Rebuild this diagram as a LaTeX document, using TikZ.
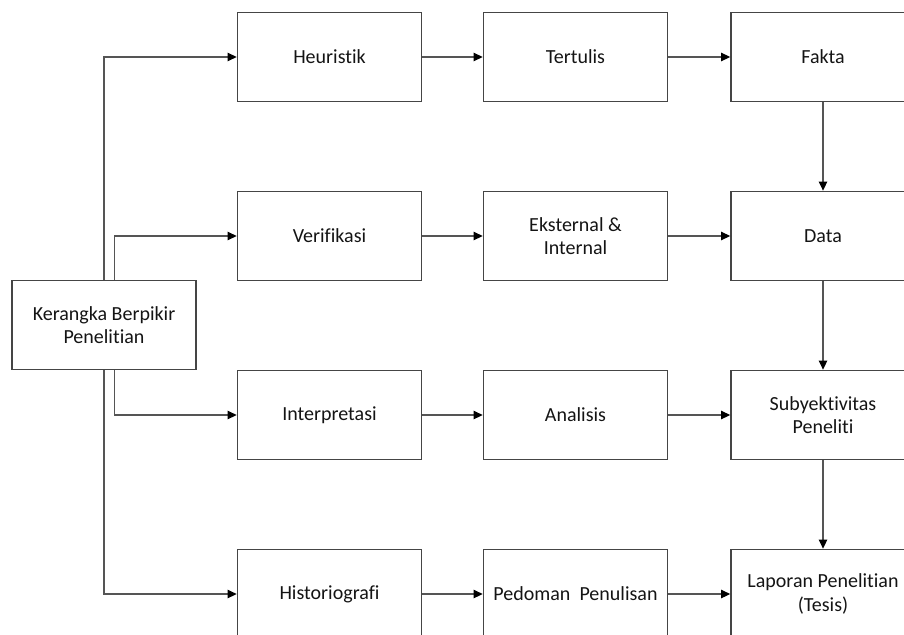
\documentclass[tikz,border=0pt]{standalone}
\usepackage{fontspec}
\setmainfont{Carlito}[RawFeature={-liga;-clig;-dlig}]
\usetikzlibrary{arrows.meta}
\definecolor{boxline}{HTML}{454545}
\definecolor{conline}{HTML}{555555}
\definecolor{txt}{HTML}{141414}
\tikzset{
  stepbox/.style={draw=boxline, line width=1.8pt, minimum width=184pt, minimum height=89pt,
    inner sep=0pt, align=center, text=txt, font=\fontsize{20}{23.5}\selectfont},
  conn/.style={draw=conline, line width=1.2pt, -{Triangle[length=9pt,width=8.5pt,fill=black,color=black]}},
}
\begin{document}
\begin{tikzpicture}[x=1pt,y=-1pt]
\useasboundingbox (0,0) rectangle (904,634);
\clip (0,0) rectangle (904,634);
% row centres: 57, 236, 415, 594 ; kerangka 325
\node[stepbox] (ker) at (104,325) {Kerangka Berpikir\\Penelitian};
\node[stepbox] (heu) at (329.5,57) {Heuristik};
\node[stepbox] (ter) at (575.5,57) {Tertulis};
\node[stepbox] (fak) at (823,57) {Fakta};
\node[stepbox] (ver) at (329.5,236) {Verifikasi};
\node[stepbox] (eks) at (575.5,236) {Eksternal \&\\Internal};
\node[stepbox] (dat) at (823,236) {Data};
\node[stepbox] (int) at (329.5,415) {Interpretasi};
\node[stepbox] (ana) at (575.5,415) {Analisis};
\node[stepbox] (sub) at (823,415) {Subyektivitas\\Peneliti};
\node[stepbox] (his) at (329.5,594) {Historiografi};
\node[stepbox] (ped) at (575.5,594) {Pedoman~ Penulisan};
\node[stepbox] (lap) at (823,594) {Laporan Penelitian\\(Tesis)};
% from Kerangka
\draw[conn] (ker.north) |- (heu.west);
\draw[conn] ([xshift=10.5pt]ker.north) |- (ver.west);
\draw[conn] ([xshift=10.5pt]ker.south) |- (int.west);
\draw[conn] (ker.south) |- (his.west);
% rows
\draw[conn] (heu) -- (ter);
\draw[conn] (ter) -- (fak);
\draw[conn] (ver) -- (eks);
\draw[conn] (eks) -- (dat);
\draw[conn] (int) -- (ana);
\draw[conn] (ana) -- (sub);
\draw[conn] (his) -- (ped);
\draw[conn] (ped) -- (lap);
% column
\draw[conn] (fak) -- (dat);
\draw[conn] (dat) -- (sub);
\draw[conn] (sub) -- (lap);
\end{tikzpicture}
\end{document}
